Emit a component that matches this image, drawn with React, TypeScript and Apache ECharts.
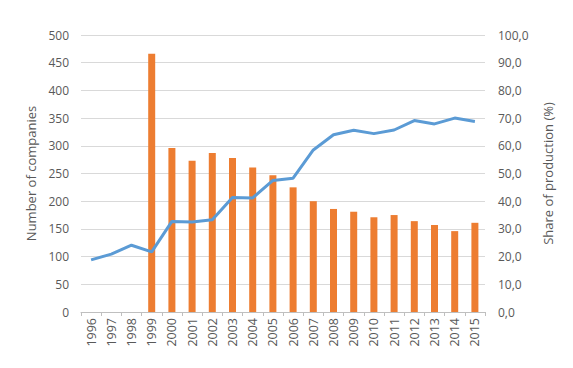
import React, { useEffect, useRef } from "react";
import * as echarts from "echarts";

const years = ["1996","1997","1998","1999","2000","2001","2002","2003","2004","2005","2006","2007","2008","2009","2010","2011","2012","2013","2014","2015"];
const companies: (number | null)[] = [null, null, null, 466, 296, 273, 287, 278, 261, 247, 225, 200, 186, 181, 171, 175, 164, 157, 146, 161];
const share = [18.8, 20.9, 24.1, 21.7, 32.7, 32.5, 33.3, 41.3, 41.2, 47.5, 48.3, 58.5, 64.0, 65.6, 64.4, 65.7, 69.1, 67.9, 70.0, 68.8];

const FONT = "Open Sans";
const TXT = "#595959";

export default function App() {
  const ref = useRef<HTMLDivElement>(null);
  useEffect(() => {
    const chart = echarts.init(ref.current!, null, { renderer: "svg" });
    chart.setOption({
      animation: false,
      grid: { left: 81, right: 88, top: 35, bottom: 56 },
      xAxis: {
        type: "category",
        data: years,
        boundaryGap: true,
        axisLine: { lineStyle: { color: "#bfbfbf" } },
        axisTick: { show: true, alignWithLabel: false, length: 4, lineStyle: { color: "#bfbfbf" } },
        axisLabel: { rotate: 90, color: TXT, fontSize: 12.5, fontFamily: FONT, margin: 6, interval: 0 },
      },
      yAxis: [
        {
          type: "value",
          min: 0,
          max: 500,
          interval: 50,
          name: "Number of companies",
          nameLocation: "middle",
          nameGap: 42,
          nameTextStyle: { color: TXT, fontSize: 13, fontFamily: FONT },
          axisLine: { show: false },
          axisTick: { show: false },
          axisLabel: { color: TXT, fontSize: 12, fontFamily: FONT, margin: 12 },
          splitLine: { lineStyle: { color: "#d9d9d9" } },
        },
        {
          type: "value",
          min: 0,
          max: 100,
          interval: 10,
          name: "Share of production (%)",
          nameLocation: "middle",
          nameGap: 56,
          nameRotate: 90,
          nameTextStyle: { color: TXT, fontSize: 13, fontFamily: FONT },
          axisLine: { show: false },
          axisTick: { show: false },
          axisLabel: { color: TXT, fontSize: 12, fontFamily: FONT, margin: 13, formatter: (v: number) => v.toFixed(1).replace(".", ",") },
          splitLine: { show: false },
        },
      ],
      series: [
        {
          type: "bar",
          data: companies,
          yAxisIndex: 0,
          barWidth: 7,
          itemStyle: { color: "#ED7D31" },
        },
        {
          type: "line",
          data: share,
          yAxisIndex: 1,
          symbol: "none",
          lineStyle: { color: "#5B9BD5", width: 3 },
        },
      ],
    });
    return () => chart.dispose();
  }, []);
  return <div ref={ref} style={{ width: 573, height: 368, position: "absolute", left: 0, top: 0 }} />;
}
